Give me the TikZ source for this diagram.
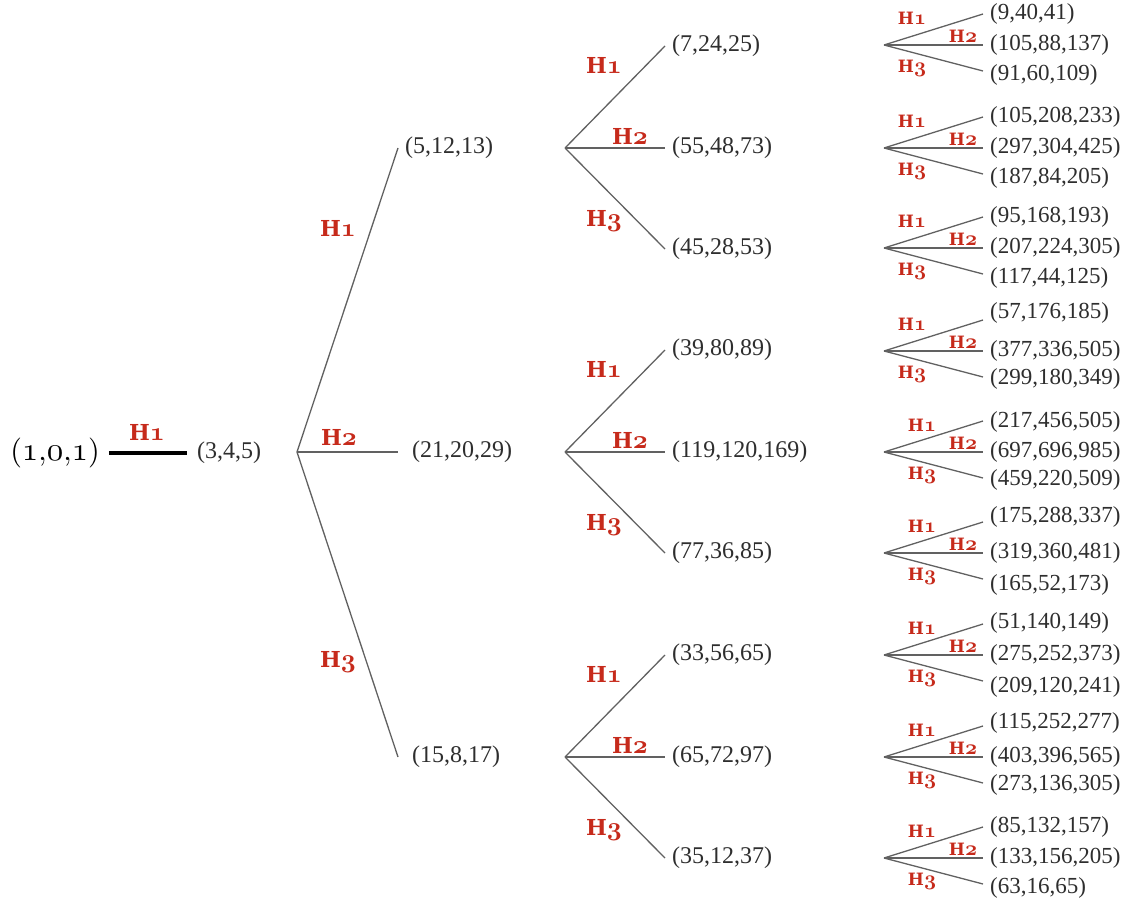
\documentclass[tikz,border=0pt]{standalone}
\usepackage{fontspec}
\newfontfamily\tms{Liberation Serif}
\newfontfamily\hfam{DejaVu Serif}[BoldFont={DejaVu Serif Bold}]
\definecolor{hred}{HTML}{C62A1B}
\definecolor{ink}{HTML}{2E2E2E}
% old-style figures from the Computer Modern math italic fonts
\font\osbA=cmmib10 at 26pt
\font\osbB=cmmib10 at 21pt
\font\seedrm=cmr10 at 30pt
\font\seedos=cmmi10 at 33pt
\newcommand\hbig[1]{{\hfam\bfseries\fontsize{22}{22}\selectfont H\osbA #1}}
\newcommand\hsmall[1]{{\hfam\bfseries\fontsize{17}{17}\selectfont H\osbB #1}}
\newcommand\seedtriple{{\seedrm(\seedos 1\seedrm,\seedos 0\seedrm,\seedos 1\seedrm)}}
\tikzset{
  num/.style={font=\tms\fontsize{24}{24}\selectfont, text=ink, inner sep=0pt, anchor=west},
  leaf/.style={font=\tms\fontsize{23}{23}\selectfont, text=ink, inner sep=0pt, anchor=west},
  seed/.style={inner sep=0pt},
  lab/.style={text=hred, inner sep=0pt},
  branch/.style={draw=black!62, line width=1.3pt},
}
\begin{document}
\begin{tikzpicture}[x=1pt,y=-1pt]
\useasboundingbox (0,0) rectangle (1130,907);

% root triple and first step
\node[seed] (o) at (55,453) {\seedtriple};
\node[num] (t) at (197,453) {(3,4,5)};
\draw[line width=3.2pt] ([xshift=9pt]o.east) -- ([xshift=-10pt]t.west);
\node[lab] (ht) at (147,432) {\hbig{1}};

% second generation
\coordinate (r) at (297,452);
\node[num] (a1) at (405,148) {(5,12,13)};
\node[num] (a2) at (412,452) {(21,20,29)};
\node[num] (a3) at (412,757) {(15,8,17)};
\draw[branch] (r) -- ([xshift=-7pt]a1.west);
\draw[branch] (r) -- ([xshift=-14pt]a2.west);
\draw[branch] (r) -- ([xshift=-14pt]a3.west);
\node[lab] (ha1) at (338,228) {\hbig{1}};
\node[lab] (ha2) at (339,437) {\hbig{2}};
\node[lab] (ha3) at (338,662) {\hbig{3}};

% third generation
\foreach \y/\u/\v/\w [count=\i] in {
   148/{(7,24,25)}/{(55,48,73)}/{(45,28,53)},
   452/{(39,80,89)}/{(119,120,169)}/{(77,36,85)},
   757/{(33,56,65)}/{(65,72,97)}/{(35,12,37)}}{
  \coordinate (p\i) at (565,\y);
  \node[num] (b\i a) at (672,\y-102) {\u};
  \node[num] (b\i b) at (672,\y) {\v};
  \node[num] (b\i c) at (672,\y+101) {\w};
  \draw[branch] (p\i) -- ([xshift=-7pt]b\i a.west);
  \draw[branch] (p\i) -- ([xshift=-7pt]b\i b.west);
  \draw[branch] (p\i) -- ([xshift=-7pt]b\i c.west);
  \node[lab] (hb\i a) at (604,\y-83) {\hbig{1}};
  \node[lab] (hb\i b) at (630,\y-12) {\hbig{2}};
  \node[lab] (hb\i c) at (604,\y+73) {\hbig{3}};
}

% fourth generation
\foreach \y/\lx/\ta/\tb/\u/\v/\w [count=\i] in {
   45/28/-31/30/{(9,40,41)}/{(105,88,137)}/{(91,60,109)},
   148/28/-31/30/{(105,208,233)}/{(297,304,425)}/{(187,84,205)},
   248/28/-31/30/{(95,168,193)}/{(207,224,305)}/{(117,44,125)},
   351/28/-38/28/{(57,176,185)}/{(377,336,505)}/{(299,180,349)},
   452/38/-30/28/{(217,456,505)}/{(697,696,985)}/{(459,220,509)},
   553/38/-36/32/{(175,288,337)}/{(319,360,481)}/{(165,52,173)},
   655/38/-32/32/{(51,140,149)}/{(275,252,373)}/{(209,120,241)},
   757/38/-34/28/{(115,252,277)}/{(403,396,565)}/{(273,136,305)},
   858/38/-31/30/{(85,132,157)}/{(133,156,205)}/{(63,16,65)}}{
  \coordinate (q\i) at (884,\y);
  \coordinate (e\i a) at (983,\y-31);
  \coordinate (e\i b) at (983,\y);
  \coordinate (e\i c) at (983,\y+26);
  \node[leaf] (l\i a) at (990,\y+\ta) {\u};
  \node[leaf] (l\i b) at (990,\y) {\v};
  \node[leaf] (l\i c) at (990,\y+\tb) {\w};
  \draw[branch] (q\i) -- (e\i a);
  \draw[branch] (q\i) -- (e\i b);
  \draw[branch] (q\i) -- (e\i c);
  \node[lab] (hc\i a) at (884+\lx,\y-27) {\hsmall{1}};
  \node[lab] (hc\i b) at (963,\y-9) {\hsmall{2}};
  \node[lab] (hc\i c) at (884+\lx,\y+23) {\hsmall{3}};
}
\end{tikzpicture}
\end{document}
